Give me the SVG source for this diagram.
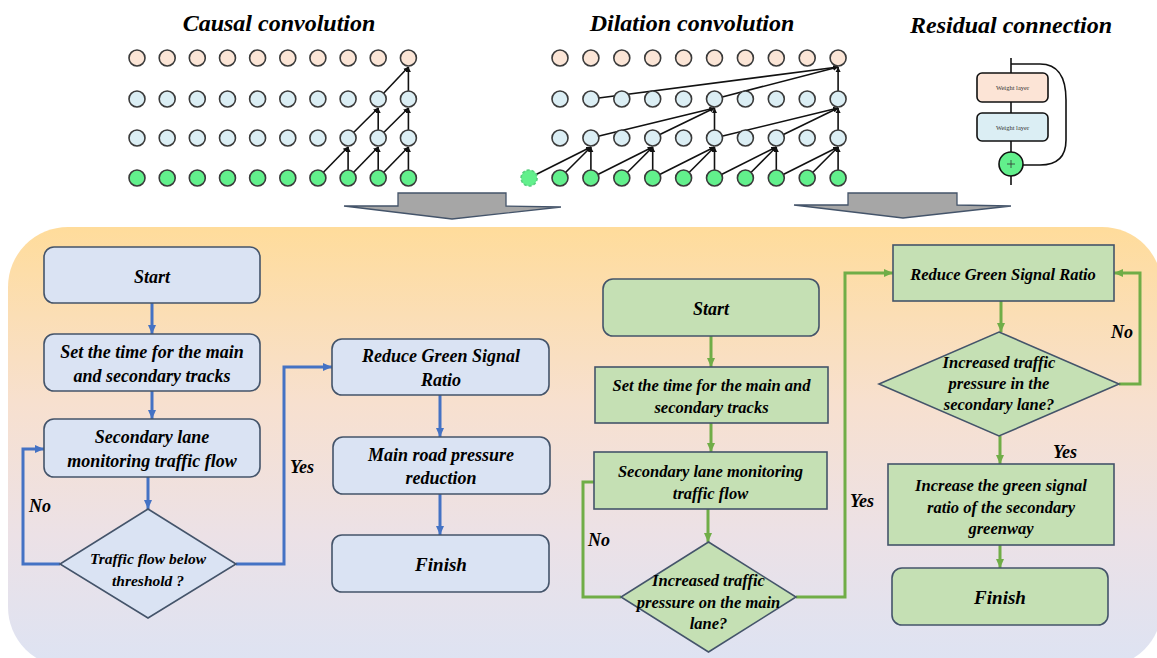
<svg xmlns="http://www.w3.org/2000/svg" width="1157" height="658" viewBox="0 0 1157 658">
<defs>
<linearGradient id="bg" x1="0" y1="0" x2="0" y2="1">
<stop offset="0" stop-color="#ffdc9b"/>
<stop offset="0.4" stop-color="#f7e0cf"/>
<stop offset="0.7" stop-color="#ece1e6"/>
<stop offset="1" stop-color="#dde3f3"/>
</linearGradient>
<marker id="ak" markerUnits="userSpaceOnUse" markerWidth="6" markerHeight="6" refX="5" refY="3" orient="auto"><path d="M0,0.5 L5,3 L0,5.5 z" fill="#111"/></marker>
<marker id="ab" markerUnits="userSpaceOnUse" markerWidth="10" markerHeight="10" refX="9" refY="5" orient="auto"><path d="M0,1 L9,5 L0,9 z" fill="#4472c4"/></marker>
<marker id="ag" markerUnits="userSpaceOnUse" markerWidth="10" markerHeight="10" refX="9" refY="5" orient="auto"><path d="M0,1 L9,5 L0,9 z" fill="#70ad47"/></marker>
</defs>
<rect width="1157" height="658" fill="#fff"/>
<rect x="8" y="227" width="1154" height="440" rx="60" ry="60" fill="url(#bg)"/>

<text x="279" y="31" style="font-family:'Liberation Serif',serif;font-weight:700;font-style:italic;font-size:24px" text-anchor="middle">Causal convolution</text>
<text x="692" y="31" style="font-family:'Liberation Serif',serif;font-weight:700;font-style:italic;font-size:24px" text-anchor="middle">Dilation convolution</text>
<text x="1011" y="33" style="font-family:'Liberation Serif',serif;font-weight:700;font-style:italic;font-size:24px" text-anchor="middle">Residual connection</text>

<g id="causal-edges" stroke="#111" stroke-width="1.6" fill="none" marker-end="url(#ak)">
<line x1="317.9" y1="178" x2="348.1" y2="147"/>
<line x1="348.1" y1="178" x2="348.1" y2="147"/>
<line x1="348.1" y1="178" x2="378.2" y2="147"/>
<line x1="378.2" y1="178" x2="378.2" y2="147"/>
<line x1="378.2" y1="178" x2="408.4" y2="147"/>
<line x1="408.4" y1="178" x2="408.4" y2="147"/>
<line x1="348.1" y1="138" x2="378.2" y2="108"/>
<line x1="378.2" y1="138" x2="378.2" y2="108"/>
<line x1="378.2" y1="138" x2="408.4" y2="108"/>
<line x1="408.4" y1="138" x2="408.4" y2="108"/>
<line x1="378.2" y1="99" x2="408.4" y2="67"/>
<line x1="408.4" y1="99" x2="408.4" y2="67"/>
</g>
<g id="causal-nodes" stroke="#3a3a3a" stroke-width="1.6">
<g fill="#fbe5d6"><circle cx="137" cy="58" r="8"/><circle cx="167.2" cy="58" r="8"/><circle cx="197.3" cy="58" r="8"/><circle cx="227.5" cy="58" r="8"/><circle cx="257.6" cy="58" r="8"/><circle cx="287.8" cy="58" r="8"/><circle cx="317.9" cy="58" r="8"/><circle cx="348.1" cy="58" r="8"/><circle cx="378.2" cy="58" r="8"/><circle cx="408.4" cy="58" r="8"/></g>
<g fill="#dbeef4"><circle cx="137" cy="99" r="8"/><circle cx="167.2" cy="99" r="8"/><circle cx="197.3" cy="99" r="8"/><circle cx="227.5" cy="99" r="8"/><circle cx="257.6" cy="99" r="8"/><circle cx="287.8" cy="99" r="8"/><circle cx="317.9" cy="99" r="8"/><circle cx="348.1" cy="99" r="8"/><circle cx="378.2" cy="99" r="8"/><circle cx="408.4" cy="99" r="8"/></g>
<g fill="#dbeef4"><circle cx="137" cy="138" r="8"/><circle cx="167.2" cy="138" r="8"/><circle cx="197.3" cy="138" r="8"/><circle cx="227.5" cy="138" r="8"/><circle cx="257.6" cy="138" r="8"/><circle cx="287.8" cy="138" r="8"/><circle cx="317.9" cy="138" r="8"/><circle cx="348.1" cy="138" r="8"/><circle cx="378.2" cy="138" r="8"/><circle cx="408.4" cy="138" r="8"/></g>
<g fill="#62f08c"><circle cx="137" cy="178" r="8"/><circle cx="167.2" cy="178" r="8"/><circle cx="197.3" cy="178" r="8"/><circle cx="227.5" cy="178" r="8"/><circle cx="257.6" cy="178" r="8"/><circle cx="287.8" cy="178" r="8"/><circle cx="317.9" cy="178" r="8"/><circle cx="348.1" cy="178" r="8"/><circle cx="378.2" cy="178" r="8"/><circle cx="408.4" cy="178" r="8"/></g>
</g>

<g id="dilation-edges" stroke="#111" stroke-width="1.6" fill="none" marker-end="url(#ak)">
<line x1="529.1" y1="178" x2="590.9" y2="147"/>
<line x1="560" y1="178" x2="590.9" y2="147"/>
<line x1="590.9" y1="178" x2="590.9" y2="147"/>
<line x1="590.9" y1="178" x2="652.7" y2="147"/>
<line x1="621.8" y1="178" x2="652.7" y2="147"/>
<line x1="652.7" y1="178" x2="652.7" y2="147"/>
<line x1="652.7" y1="178" x2="714.5" y2="147"/>
<line x1="683.6" y1="178" x2="714.5" y2="147"/>
<line x1="714.5" y1="178" x2="714.5" y2="147"/>
<line x1="714.5" y1="178" x2="776.3" y2="147"/>
<line x1="745.4" y1="178" x2="776.3" y2="147"/>
<line x1="776.3" y1="178" x2="776.3" y2="147"/>
<line x1="776.3" y1="178" x2="838.1" y2="147"/>
<line x1="807.2" y1="178" x2="838.1" y2="147"/>
<line x1="838.1" y1="178" x2="838.1" y2="147"/>
<line x1="590.9" y1="138" x2="714.5" y2="108"/>
<line x1="652.7" y1="138" x2="714.5" y2="108"/>
<line x1="714.5" y1="138" x2="714.5" y2="108"/>
<line x1="714.5" y1="138" x2="838.1" y2="108"/>
<line x1="776.3" y1="138" x2="838.1" y2="108"/>
<line x1="838.1" y1="138" x2="838.1" y2="108"/>
<line x1="590.9" y1="99" x2="838.1" y2="67"/>
<line x1="714.5" y1="99" x2="838.1" y2="67"/>
<line x1="838.1" y1="99" x2="838.1" y2="67"/>
</g>
<g id="dilation-nodes" stroke="#3a3a3a" stroke-width="1.6">
<g fill="#fbe5d6"><circle cx="560" cy="58" r="8"/><circle cx="590.9" cy="58" r="8"/><circle cx="621.8" cy="58" r="8"/><circle cx="652.7" cy="58" r="8"/><circle cx="683.6" cy="58" r="8"/><circle cx="714.5" cy="58" r="8"/><circle cx="745.4" cy="58" r="8"/><circle cx="776.3" cy="58" r="8"/><circle cx="807.2" cy="58" r="8"/><circle cx="838.1" cy="58" r="8"/></g>
<g fill="#dbeef4"><circle cx="560" cy="99" r="8"/><circle cx="590.9" cy="99" r="8"/><circle cx="621.8" cy="99" r="8"/><circle cx="652.7" cy="99" r="8"/><circle cx="683.6" cy="99" r="8"/><circle cx="714.5" cy="99" r="8"/><circle cx="745.4" cy="99" r="8"/><circle cx="776.3" cy="99" r="8"/><circle cx="807.2" cy="99" r="8"/><circle cx="838.1" cy="99" r="8"/></g>
<g fill="#dbeef4"><circle cx="560" cy="138" r="8"/><circle cx="590.9" cy="138" r="8"/><circle cx="621.8" cy="138" r="8"/><circle cx="652.7" cy="138" r="8"/><circle cx="683.6" cy="138" r="8"/><circle cx="714.5" cy="138" r="8"/><circle cx="745.4" cy="138" r="8"/><circle cx="776.3" cy="138" r="8"/><circle cx="807.2" cy="138" r="8"/><circle cx="838.1" cy="138" r="8"/></g>
<g fill="#62f08c"><circle cx="529.1" cy="178" r="8" stroke-dasharray="3,2" stroke="#5ad080"/><circle cx="560" cy="178" r="8"/><circle cx="590.9" cy="178" r="8"/><circle cx="621.8" cy="178" r="8"/><circle cx="652.7" cy="178" r="8"/><circle cx="683.6" cy="178" r="8"/><circle cx="714.5" cy="178" r="8"/><circle cx="745.4" cy="178" r="8"/><circle cx="776.3" cy="178" r="8"/><circle cx="807.2" cy="178" r="8"/><circle cx="838.1" cy="178" r="8"/></g>
</g>

<g id="residual">
<path d="M1011,58 V185" stroke="#111" stroke-width="1.6" fill="none"/>
<path d="M1011,64 H1040 Q1066,64 1066,100 V140 Q1066,165 1040,165 H1023" stroke="#111" stroke-width="1.6" fill="none"/>
<rect x="977" y="73" width="71" height="29" rx="5" fill="#fce4d6" stroke="#111" stroke-width="1.6"/>
<rect x="977" y="113" width="71" height="28" rx="5" fill="#dbeef4" stroke="#111" stroke-width="1.6"/>
<text x="1012.5" y="90" style="font-family:'Liberation Serif',serif;font-size:6.5px" text-anchor="middle" fill="#333">Weight layer</text>
<text x="1012.5" y="130" style="font-family:'Liberation Serif',serif;font-size:6.5px" text-anchor="middle" fill="#333">Weight layer</text>
<circle cx="1011" cy="164" r="12" fill="#62f08c" stroke="#111" stroke-width="1.6"/>
<path d="M1007,164 H1015 M1011,160 V168" stroke="#333" stroke-width="0.8"/>
</g>

<g id="big-arrows" fill="#a6a6a6" stroke="#44546a" stroke-width="1.3">
<polygon points="398,193 506,193 506,206 561,207 452,219 344,206 398,206"/>
<polygon points="848,193 957,193 957,205 1011,206 903,218 794,205 848,205"/>
</g>

<g id="connectors" fill="none" stroke-width="3">
<g stroke="#4472c4" marker-end="url(#ab)">
<path d="M152,303 V334"/>
<path d="M152,391 V419"/>
<path d="M148,477 V509"/>
<path d="M60,564 H23 V449 H44"/>
<path d="M236,564 H284 V367 H332"/>
<path d="M440,395 V437"/>
<path d="M440,494 V535"/>
</g>
<g stroke="#70ad47">
<path d="M711,336 V367" marker-end="url(#ag)"/>
<path d="M711,423 V452" marker-end="url(#ag)"/>
<path d="M708,509 V542" marker-end="url(#ag)"/>
<path d="M621,597 H583 V482 H594"/>
<path d="M796,597 H845 V273 H893" marker-end="url(#ag)"/>
<path d="M1001,301 V332" marker-end="url(#ag)"/>
<path d="M1119,384 H1140 V273 H1114" marker-end="url(#ag)"/>
<path d="M1000,436 V464" marker-end="url(#ag)"/>
<path d="M1000,545 V568" marker-end="url(#ag)"/>
</g>
<text x="40" y="512" fill="#000" stroke="none" style="font-family:'Liberation Serif',serif;font-weight:700;font-style:italic;font-size:18px" text-anchor="middle">No</text>
<text x="302" y="473" fill="#000" stroke="none" style="font-family:'Liberation Serif',serif;font-weight:700;font-style:italic;font-size:18px" text-anchor="middle">Yes</text>
<text x="599" y="546" fill="#000" stroke="none" style="font-family:'Liberation Serif',serif;font-weight:700;font-style:italic;font-size:18px" text-anchor="middle">No</text>
<text x="862" y="507" fill="#000" stroke="none" style="font-family:'Liberation Serif',serif;font-weight:700;font-style:italic;font-size:18px" text-anchor="middle">Yes</text>
<text x="1122" y="338" fill="#000" stroke="none" style="font-family:'Liberation Serif',serif;font-weight:700;font-style:italic;font-size:18px" text-anchor="middle">No</text>
<text x="1065" y="458" fill="#000" stroke="none" style="font-family:'Liberation Serif',serif;font-weight:700;font-style:italic;font-size:18px" text-anchor="middle">Yes</text>
</g>

<g id="b-start"><rect fill="#dae3f3" stroke="#44546a" stroke-width="1.6" x="44" y="247" width="216" height="56" rx="10"/><text x="152" y="283" style="font-family:'Liberation Serif',serif;font-weight:700;font-style:italic;font-size:18px" text-anchor="middle">Start</text></g>
<g id="b-set"><rect fill="#dae3f3" stroke="#44546a" stroke-width="1.6" x="44" y="334" width="216" height="57" rx="10"/><text x="152" y="358" style="font-family:'Liberation Serif',serif;font-weight:700;font-style:italic;font-size:18px" text-anchor="middle">Set the time for the main</text><text x="152" y="382" style="font-family:'Liberation Serif',serif;font-weight:700;font-style:italic;font-size:18px" text-anchor="middle">and secondary tracks</text></g>
<g id="b-sec"><rect fill="#dae3f3" stroke="#44546a" stroke-width="1.6" x="44" y="419" width="216" height="58" rx="10"/><text x="152" y="443" style="font-family:'Liberation Serif',serif;font-weight:700;font-style:italic;font-size:18px" text-anchor="middle">Secondary lane</text><text x="152" y="467" style="font-family:'Liberation Serif',serif;font-weight:700;font-style:italic;font-size:18px" text-anchor="middle">monitoring traffic flow</text></g>
<g id="b-dec"><polygon fill="#dae3f3" stroke="#44546a" stroke-width="1.6" points="148,509 236,564 148,618 60,564"/><text x="148" y="564" style="font-family:'Liberation Serif',serif;font-weight:700;font-style:italic;font-size:15.5px" text-anchor="middle">Traffic flow below</text><text x="148" y="586" style="font-family:'Liberation Serif',serif;font-weight:700;font-style:italic;font-size:15.5px" text-anchor="middle">threshold ?</text></g>
<g id="b-reduce"><rect fill="#dae3f3" stroke="#44546a" stroke-width="1.6" x="332" y="339" width="217" height="56" rx="10"/><text x="441" y="362" style="font-family:'Liberation Serif',serif;font-weight:700;font-style:italic;font-size:18px" text-anchor="middle">Reduce Green Signal</text><text x="441" y="386" style="font-family:'Liberation Serif',serif;font-weight:700;font-style:italic;font-size:18px" text-anchor="middle">Ratio</text></g>
<g id="b-main"><rect fill="#dae3f3" stroke="#44546a" stroke-width="1.6" x="333" y="437" width="217" height="57" rx="10"/><text x="441" y="461" style="font-family:'Liberation Serif',serif;font-weight:700;font-style:italic;font-size:18px" text-anchor="middle">Main road pressure</text><text x="441" y="484" style="font-family:'Liberation Serif',serif;font-weight:700;font-style:italic;font-size:18px" text-anchor="middle">reduction</text></g>
<g id="b-finish"><rect fill="#dae3f3" stroke="#44546a" stroke-width="1.6" x="332" y="535" width="217" height="57" rx="10"/><text x="441" y="571" style="font-family:'Liberation Serif',serif;font-weight:700;font-style:italic;font-size:19px" text-anchor="middle">Finish</text></g>

<g id="g-start"><rect fill="#c5e0b4" stroke="#44546a" stroke-width="1.6" x="603" y="279" width="216" height="57" rx="10"/><text x="711" y="315" style="font-family:'Liberation Serif',serif;font-weight:700;font-style:italic;font-size:18px" text-anchor="middle">Start</text></g>
<g id="g-set"><rect fill="#c5e0b4" stroke="#44546a" stroke-width="1.6" x="595" y="367" width="233" height="56"/><text x="711.5" y="391" style="font-family:'Liberation Serif',serif;font-weight:700;font-style:italic;font-size:16.5px" text-anchor="middle">Set the time for the main and</text><text x="711.5" y="413" style="font-family:'Liberation Serif',serif;font-weight:700;font-style:italic;font-size:16.5px" text-anchor="middle">secondary tracks</text></g>
<g id="g-sec"><rect fill="#c5e0b4" stroke="#44546a" stroke-width="1.6" x="594" y="452" width="233" height="57"/><text x="710.5" y="477" style="font-family:'Liberation Serif',serif;font-weight:700;font-style:italic;font-size:16.5px" text-anchor="middle">Secondary lane monitoring</text><text x="710.5" y="499" style="font-family:'Liberation Serif',serif;font-weight:700;font-style:italic;font-size:16.5px" text-anchor="middle">traffic flow</text></g>
<g id="g-dec1"><polygon fill="#c5e0b4" stroke="#44546a" stroke-width="1.6" points="708.5,542 796,597 708.5,652 621,597"/><text x="708.5" y="586" style="font-family:'Liberation Serif',serif;font-weight:700;font-style:italic;font-size:16.5px" text-anchor="middle">Increased traffic</text><text x="708.5" y="608" style="font-family:'Liberation Serif',serif;font-weight:700;font-style:italic;font-size:16.5px" text-anchor="middle">pressure on the main</text><text x="708.5" y="629" style="font-family:'Liberation Serif',serif;font-weight:700;font-style:italic;font-size:16.5px" text-anchor="middle">lane?</text></g>
<g id="g-reduce"><rect fill="#c5e0b4" stroke="#44546a" stroke-width="1.6" x="893" y="245" width="221" height="56"/><text x="1003" y="280" style="font-family:'Liberation Serif',serif;font-weight:700;font-style:italic;font-size:16.5px" text-anchor="middle">Reduce Green Signal Ratio</text></g>
<g id="g-dec2"><polygon fill="#c5e0b4" stroke="#44546a" stroke-width="1.6" points="999,332 1119,384 999,436 879,384"/><text x="999" y="368" style="font-family:'Liberation Serif',serif;font-weight:700;font-style:italic;font-size:16.5px" text-anchor="middle">Increased traffic</text><text x="999" y="389" style="font-family:'Liberation Serif',serif;font-weight:700;font-style:italic;font-size:16.5px" text-anchor="middle">pressure in the</text><text x="999" y="410" style="font-family:'Liberation Serif',serif;font-weight:700;font-style:italic;font-size:16.5px" text-anchor="middle">secondary lane?</text></g>
<g id="g-increase"><rect fill="#c5e0b4" stroke="#44546a" stroke-width="1.6" x="888" y="464" width="226" height="81"/><text x="1001" y="491" style="font-family:'Liberation Serif',serif;font-weight:700;font-style:italic;font-size:16.5px" text-anchor="middle">Increase the green signal</text><text x="1001" y="513" style="font-family:'Liberation Serif',serif;font-weight:700;font-style:italic;font-size:16.5px" text-anchor="middle">ratio of the secondary</text><text x="1001" y="534" style="font-family:'Liberation Serif',serif;font-weight:700;font-style:italic;font-size:16.5px" text-anchor="middle">greenway</text></g>
<g id="g-finish"><rect fill="#c5e0b4" stroke="#44546a" stroke-width="1.6" x="892" y="568" width="216" height="57" rx="10"/><text x="1000" y="604" style="font-family:'Liberation Serif',serif;font-weight:700;font-style:italic;font-size:19px" text-anchor="middle">Finish</text></g>
</svg>
